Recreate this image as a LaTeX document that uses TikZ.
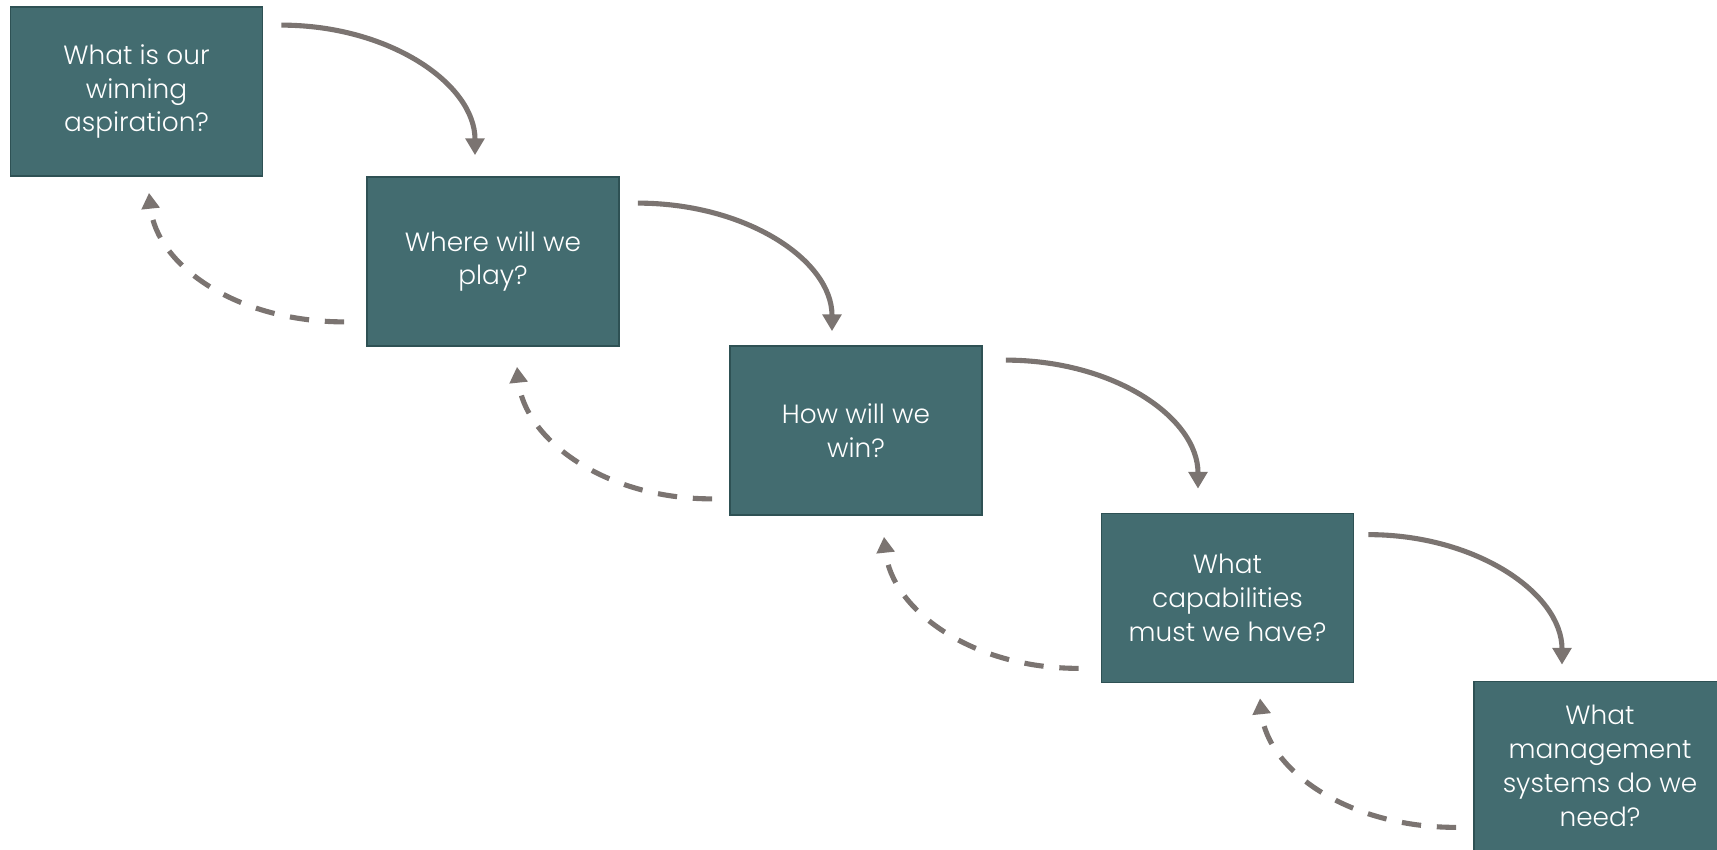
\documentclass[tikz,border=0pt]{standalone}
\usepackage{fontspec}
\setmainfont{Poppins Light}
\usetikzlibrary{arrows.meta}
\definecolor{boxteal}{HTML}{436C70}
\definecolor{boxedge}{HTML}{2E5154}
\definecolor{arrowgray}{HTML}{7B7471}

\begin{document}
\begin{tikzpicture}[
		qbox/.style = {draw = boxedge, line width = 1pt, fill = boxteal, text = white,
			minimum width = 5.04cm, minimum height = 3.38cm, align = center,
			font = \fontsize{15}{19.3}\selectfont},
		fwd/.style = {arrowgray, line width = 2.9pt, -{Triangle[width = 10.5pt, length = 9.5pt]}},
		back/.style = {arrowgray, line width = 2.9pt, dash pattern = on 11pt off 9pt,
			-{Triangle[width = 10pt, length = 9pt]}}
	]
		
		\useasboundingbox (0, 0) rectangle (34.34, -17);
		
		\node[qbox] (aspire) at (2.73, -1.83) {What is our\\winning\\aspiration?};
		\node[qbox] (play) at (9.86, -5.23) {Where will we\\play?};
		\node[qbox] (win) at (17.12, -8.61) {How will we\\win?};
		\node[qbox] (capab) at (24.55, -11.96) {What\\capabilities\\must we have?};
		\node[qbox] (mgmt) at (32.0, -15.32) {What\\management\\systems do we\\need?};
		
		% forward questions
		\draw[fwd] ([xshift = 0.36cm, yshift = -0.38cm]aspire.north east) .. controls +(2.16, 0) and +(0, 1.42) .. ([xshift = -0.36cm, yshift = 0.42cm]play.north);
		\draw[fwd] ([xshift = 0.36cm, yshift = -0.54cm]play.north east) .. controls +(2.16, 0) and +(0, 1.42) .. ([xshift = -0.48cm, yshift = 0.28cm]win.north);
		\draw[fwd] ([xshift = 0.46cm, yshift = -0.30cm]win.north east) .. controls +(2.16, 0) and +(0, 1.42) .. ([xshift = -0.59cm, yshift = 0.48cm]capab.north);
		\draw[fwd] ([xshift = 0.28cm, yshift = -0.44cm]capab.north east) .. controls +(2.16, 0) and +(0, 1.42) .. ([xshift = -0.76cm, yshift = 0.32cm]mgmt.north);
		
		% feedback loops
		\draw[back] ([xshift = -0.44cm, yshift = 0.50cm]play.south west) .. controls +(-2.16, 0) and +(0.15, -1.44) .. ([xshift = 0.25cm, yshift = -0.32cm]aspire.south);
		\draw[back] ([xshift = -0.34cm, yshift = 0.34cm]win.south west) .. controls +(-2.16, 0) and +(0.15, -1.44) .. ([xshift = 0.48cm, yshift = -0.40cm]play.south);
		\draw[back] ([xshift = -0.44cm, yshift = 0.30cm]capab.south west) .. controls +(-2.16, 0) and +(0.15, -1.44) .. ([xshift = 0.56cm, yshift = -0.42cm]win.south);
		\draw[back] ([xshift = -0.34cm, yshift = 0.48cm]mgmt.south west) .. controls +(-2.16, 0) and +(0.15, -1.44) .. ([xshift = 0.65cm, yshift = -0.30cm]capab.south);
		
	\end{tikzpicture}
\end{document}
